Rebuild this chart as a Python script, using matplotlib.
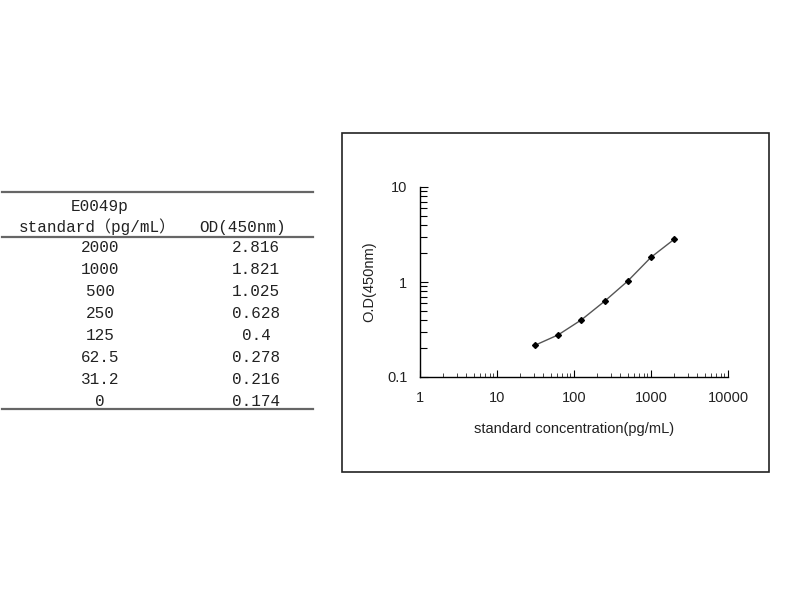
import matplotlib
matplotlib.use("Agg")
import matplotlib.pyplot as plt
from matplotlib.patches import Rectangle
from matplotlib.lines import Line2D

# table values
concentration_labels = ["2000", "1000", "500", "250", "125", "62.5", "31.2", "0"]
od_labels = ["2.816", "1.821", "1.025", "0.628", "0.4", "0.278", "0.216", "0.174"]

# curve (zero standard is left out on the log plot)
conc = [31.2, 62.5, 125, 250, 500, 1000, 2000]
od = [0.216, 0.278, 0.4, 0.628, 1.025, 1.821, 2.816]

W, H = 800, 600
fig = plt.figure(figsize=(8, 6), dpi=100)


def fx(px):
    return px / W


def fy(py):
    return 1 - py / H


mono = ["Liberation Mono", "Noto Sans CJK SC"]
tcol = "#222222"
tsize = 11.5

# ---- table ----
for y in (192, 237, 409):
    fig.add_artist(Line2D([fx(2), fx(313)], [fy(y), fy(y)], color="#666666", lw=1.6))

fig.text(fx(100), fy(207), "E0049p", family=mono, fontsize=tsize, color=tcol,
         ha="center", va="center")
fig.text(fx(97), fy(227), "standard（pg/mL）", family=mono, fontsize=tsize, color=tcol,
         ha="center", va="center")
fig.text(fx(243), fy(227), "OD(450nm)", family=mono, fontsize=tsize, color=tcol,
         ha="center", va="center")

row_y0, row_step = 248, 21.9
for i, (c, v) in enumerate(zip(concentration_labels, od_labels)):
    y = row_y0 + i * row_step
    fig.text(fx(100), fy(y), c, family=mono, fontsize=tsize, color=tcol, ha="center", va="center")
    fig.text(fx(256), fy(y), v, family=mono, fontsize=tsize, color=tcol, ha="center", va="center")

# ---- chart frame ----
fig.add_artist(Rectangle((fx(342), fy(472)), fx(769 - 342), (472 - 133) / H,
                         fill=False, edgecolor="#222222", lw=1.2))

ax = fig.add_axes([fx(420), fy(377), fx(728 - 420), (377 - 187) / H])
ax.plot(conc, od, color="#555555", lw=1.0, marker="D", markersize=3,
        markerfacecolor="black", markeredgecolor="black")
ax.set_xscale("log")
ax.set_yscale("log")
ax.set_xlim(1, 10000)
ax.set_ylim(0.1, 10)
ax.patch.set_alpha(0)

for s in ("top", "right"):
    ax.spines[s].set_visible(False)
for s in ("left", "bottom"):
    ax.spines[s].set_linewidth(1.0)
    ax.spines[s].set_color("black")

sans = "Liberation Sans"
ax.set_xticks([1, 10, 100, 1000, 10000])
ax.set_xticklabels(["1", "10", "100", "1000", "10000"])
ax.set_yticks([0.1, 1, 10])
ax.set_yticklabels(["0.1", "1", "10"])
ax.tick_params(axis="x", which="major", direction="in", length=5, width=0.8, pad=10,
               labelsize=10.5)
ax.tick_params(axis="x", which="minor", direction="in", length=3, width=0.7, color="#444444")
ax.tick_params(axis="y", which="major", direction="in", length=6, width=0.8, pad=9,
               labelsize=10.5)
ax.tick_params(axis="y", which="minor", direction="in", length=5, width=0.8)
for lab in ax.get_xticklabels() + ax.get_yticklabels():
    lab.set_family(sans)
    lab.set_color("#222222")

ax.set_xlabel("standard concentration(pg/mL)", family=sans, fontsize=10.5,
              color="#222222", labelpad=12)
ax.set_ylabel("O.D(450nm)", family=sans, fontsize=10.5, color="#222222", labelpad=8)

fig.savefig("out.png", dpi=100)
